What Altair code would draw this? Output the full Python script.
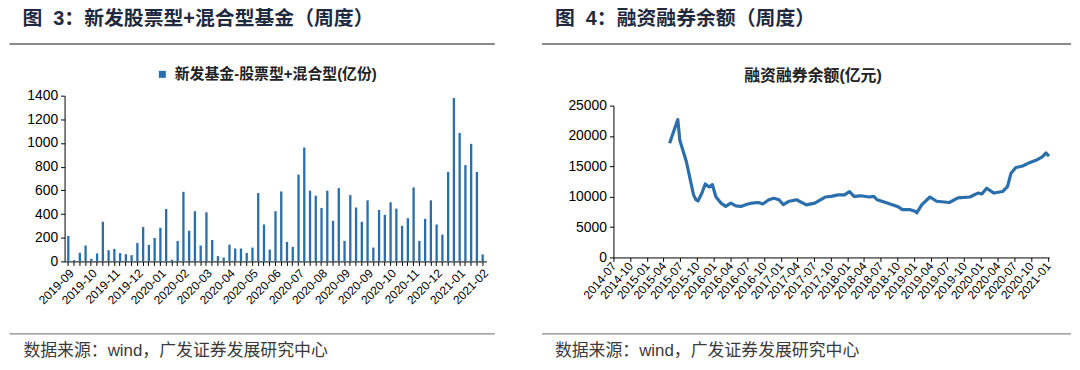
import json
import altair as alt
import pandas as pd

# ---------------- text ----------------
HEADER_L = "图\u00a0\u00a03：新发股票型+混合型基金（周度）"
HEADER_R = "图\u00a0\u00a04：融资融券余额（周度）"
FOOTER = "数据来源：wind，广发证券发展研究中心"
LEGEND_L = "新发基金-股票型+混合型(亿份)"
TITLE_R = "融资融券余额(亿元)"

# ---------------- left: weekly new equity + hybrid fund issuance ----------------
BAR_VALUES = [215, 11, 72, 134, 22, 67, 335, 95, 106, 70,
              61, 53, 156, 290, 139, 198, 284, 443, 14, 173,
              588, 259, 424, 134, 415, 181, 45, 33, 142, 109,
              109, 72, 117, 577, 312, 100, 424, 591, 165, 123,
              733, 962, 597, 555, 452, 597, 343, 619, 173, 560,
              455, 335, 516, 117, 435, 393, 499, 446, 301, 365,
              625, 173, 360, 516, 312, 226, 756, 1380, 1085, 814,
              993, 756, 59]
X_LABELS_L = ["2019-09", "2019-10", "2019-11", "2019-12", "2020-01", "2020-02",
              "2020-03", "2020-04", "2020-05", "2020-06", "2020-07", "2020-08",
              "2020-09", "2020-09", "2020-10", "2020-11", "2020-12", "2021-01",
              "2021-02"]
Y_TICKS_L = [0, 200, 400, 600, 800, 1000, 1200, 1400]

# ---------------- right: margin trading balance ----------------
LINE_DATES = ["2015-05-04", "2015-06-18", "2015-06-29", "2015-08-04", "2015-09-12",
              "2015-09-25", "2015-10-06", "2015-10-28", "2015-11-15", "2015-12-06",
              "2015-12-24", "2016-01-12", "2016-02-09", "2016-03-06", "2016-04-03",
              "2016-05-01", "2016-05-28", "2016-07-01", "2016-07-28", "2016-09-01",
              "2016-09-25", "2016-10-28", "2016-11-25", "2016-12-22", "2017-01-15",
              "2017-02-12", "2017-03-28", "2017-05-21", "2017-07-06", "2017-09-01",
              "2017-10-04", "2017-11-10", "2017-12-16", "2018-01-12", "2018-02-06",
              "2018-03-16", "2018-04-28", "2018-05-25", "2018-06-12", "2018-08-06",
              "2018-10-01", "2018-10-28", "2018-12-10", "2019-01-06", "2019-01-15",
              "2019-02-12", "2019-03-28", "2019-05-03", "2019-07-12", "2019-08-28",
              "2019-11-01", "2019-12-15", "2020-01-06", "2020-02-01", "2020-03-12",
              "2020-04-28", "2020-05-25", "2020-06-13", "2020-07-10", "2020-08-16",
              "2020-09-22", "2020-11-04", "2020-12-01", "2020-12-22", "2021-01-07"]
LINE_VALUES = [18800, 22700, 19300, 15750, 10300, 9500, 9300, 10600, 12100, 11600,
               12000, 10000, 8950, 8400, 8950, 8500, 8400, 8750, 8950, 9050,
               8800, 9500, 9750, 9500, 8700, 9200, 9500, 8650, 8950, 9950,
               10050, 10300, 10300, 10850, 10050, 10150, 9950, 10050, 9500, 8950,
               8400, 7870, 7870, 7600, 7350, 8700, 9950, 9250, 9050, 9800,
               9950, 10600, 10450, 11400, 10600, 10850, 11650, 13850, 14800, 15050,
               15600, 16100, 16550, 17200, 16650]
X_LABELS_R = ["2014-07", "2014-10", "2015-01", "2015-04", "2015-07", "2015-10",
              "2016-01", "2016-04", "2016-07", "2016-10", "2017-01", "2017-04",
              "2017-07", "2017-10", "2018-01", "2018-04", "2018-07", "2018-10",
              "2019-01", "2019-04", "2019-07", "2019-10", "2020-01", "2020-04",
              "2020-07", "2020-10", "2021-01"]
Y_TICKS_R = [0, 5000, 10000, 15000, 20000, 25000]

FONT = "Liberation Sans, Noto Sans CJK SC"
BLUE = "#2a6eab"
HEAD_COLOR = "#1f2a40"
RULE_COLOR = "#8a8a8a"
FOOT_COLOR = "#3a3a3a"


def text_layer(txt, x, y, size, weight="normal", color="#000", align="left", baseline="top"):
    return alt.Chart(pd.DataFrame({"t": [txt]})).mark_text(
        align=align, baseline=baseline, fontSize=size, fontWeight=weight,
        color=color, font=FONT
    ).encode(x=alt.value(x), y=alt.value(y), text="t:N")


def rule_layer(x1, x2, y, width, color):
    return alt.Chart(pd.DataFrame({"r": [0]})).mark_rule(
        color=color, strokeWidth=width
    ).encode(x=alt.value(x1), x2=alt.value(x2), y=alt.value(y))


# ---------- left panel ----------
WL, HL = 425, 167
left_df = pd.DataFrame({"idx": list(range(len(BAR_VALUES))), "v": BAR_VALUES,
                        "series": [LEGEND_L] * len(BAR_VALUES)})
lab_arr = json.dumps(X_LABELS_L)
label_expr = f"datum.value % 4 == 0 ? {lab_arr}[datum.value / 4] : ''"

bars = alt.Chart(left_df).mark_bar().encode(
    x=alt.X("idx:O", sort=None,
            scale=alt.Scale(paddingInner=0.6, paddingOuter=0.45),
            axis=alt.Axis(title=None, labelExpr=label_expr, labelAngle=-45,
                          labelOverlap=False, labelFontSize=12, labelFont=FONT,
                          labelColor="#000", tickSize=4, tickColor="#000",
                          domainColor="#000", labelPadding=2)),
    y=alt.Y("v:Q", scale=alt.Scale(domain=[0, 1400], nice=False),
            axis=alt.Axis(title=None, values=Y_TICKS_L, format="d", grid=False,
                          labelFontSize=14, labelFont=FONT, labelColor="#000",
                          tickSize=4, tickColor="#000", domainColor="#000",
                          labelPadding=3)),
    color=alt.Color("series:N", scale=alt.Scale(range=[BLUE]),
                    legend=alt.Legend(title=None, orient="none", legendX=91, legendY=-29,
                                      symbolType="square", symbolSize=50,
                                      symbolStrokeWidth=0, labelFontSize=15,
                                      labelFontWeight="bold", labelFont=FONT,
                                      labelColor="#222", labelOffset=5, padding=0,
                                      labelLimit=500)),
)

left = alt.layer(
    bars,
    text_layer(HEADER_L, -42.5, -87, 20, "bold", HEAD_COLOR),
    rule_layer(-55.5, 433.5, -52, 2, RULE_COLOR),
    rule_layer(-55.5, 433.5, 240, 1.5, RULE_COLOR),
    text_layer(FOOTER, -41.5, 257, 17, "normal", FOOT_COLOR, baseline="middle"),
).properties(width=WL, height=HL)

# ---------- right panel ----------
# plot origin shared with the left panel (page y 95); the y range starts 10px lower
WR, HR = 439, 163
right_df = pd.DataFrame({"d": LINE_DATES, "v": LINE_VALUES})
tick_dates = [alt.DateTime(year=int(s[:4]), month=int(s[5:]), date=1, utc=True)
              for s in X_LABELS_R]
x_domain = [alt.DateTime(year=2014, month=7, date=1, utc=True),
            alt.DateTime(year=2021, month=1, date=8, utc=True)]

line = alt.Chart(right_df).mark_line(color=BLUE, strokeWidth=3.2, strokeJoin="round").encode(
    x=alt.X("d:T", scale=alt.Scale(type="utc", domain=x_domain, nice=False),
            axis=alt.Axis(title=None, values=tick_dates, format="%Y-%m", labelAngle=-50,
                          labelOverlap=False, labelFontSize=12, labelFont=FONT,
                          labelColor="#000", tickSize=4, tickColor="#000",
                          domainColor="#000", labelPadding=2, grid=False)),
    y=alt.Y("v:Q", scale=alt.Scale(domain=[0, 25000], nice=False, range=[HR, 10]),
            axis=alt.Axis(title=None, values=Y_TICKS_R, format="d", grid=False,
                          labelFontSize=14, labelFont=FONT, labelColor="#000",
                          tickSize=4, tickColor="#000", domainColor="#000",
                          labelPadding=3)),
)

right = alt.layer(
    line,
    text_layer(HEADER_R, -59, -87, 20, "bold", HEAD_COLOR),
    rule_layer(-72, 461, -52, 2, RULE_COLOR),
    text_layer(TITLE_R, 201, -20, 16, "bold", "#222", align="center", baseline="middle"),
    rule_layer(-72, 461, 240, 1.5, RULE_COLOR),
    text_layer(FOOTER, -59, 257, 17, "normal", FOOT_COLOR, baseline="middle"),
).properties(width=WR, height=HR)

chart = alt.hconcat(left, right, spacing=45).properties(
    padding=0, background="white"
).configure_view(strokeWidth=0)

chart.save("out.html", embed_options={"renderer": "svg", "actions": False})
